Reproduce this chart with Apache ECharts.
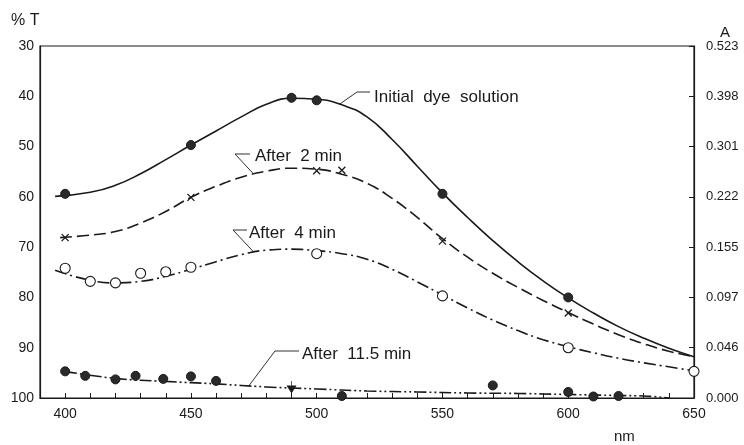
<!DOCTYPE html>
<html>
<head>
<meta charset="utf-8">
<script src="https://cdn.jsdelivr.net/npm/echarts@6/dist/echarts.min.js"></script>
<style>
html,body{margin:0;padding:0;background:#fff;}
#c{width:744px;height:445px;}
</style>
</head>
<body>
<div id="c"></div>
<script>
// ---- Data (wavelength nm, % transmittance) ----
const xTicksLabelled = [400, 450, 500, 550, 600, 650];
const tLabels = [30, 40, 50, 60, 70, 80, 90, 100];
const absLabels = ['0.523', '0.398', '0.301', '0.222', '0.155', '0.097', '0.046', '0.000'];

// measured points
const initialPts = [[400, 59.4], [450, 49.7], [490, 40.3], [500, 40.8], [550, 59.4], [600, 80.0]];
const after2Pts = [[400, 68.1], [450, 60.1], [500, 54.8], [510, 54.7], [550, 68.8], [600, 83.1]];
const after4Pts = [[400, 74.2], [410, 76.8], [420, 77.1], [430, 75.2], [440, 74.9], [450, 74.0], [500, 71.3], [550, 79.7], [600, 90.0], [650, 94.7]];
const after11Pts = [[400, 94.7], [408, 95.6], [420, 96.3], [428, 95.6], [439, 96.2], [450, 95.7], [460, 96.6], [510, 99.6], [570, 97.5], [600, 98.8], [610, 99.7], [620, 99.6]];
const after11Mark = [[490, 98.2]];

// fitted curves as drawn
const initialCurve = [[396, 59.9], [410, 59.1], [420, 57.7], [430, 55.4], [440, 52.6], [450, 49.7], [460, 46.9], [470, 44.1], [480, 41.6], [490, 40.4], [500, 40.6], [510, 41.7], [520, 44.1], [530, 48.6], [540, 53.9], [550, 59.2], [560, 64.1], [570, 68.7], [580, 72.9], [590, 76.7], [600, 80.1], [610, 83.1], [620, 85.8], [630, 88.1], [640, 90.1], [650, 91.8]];
const after2Curve = [[398, 68.1], [410, 67.6], [420, 66.9], [430, 65.2], [440, 62.9], [450, 60.1], [460, 57.9], [470, 56.1], [480, 54.9], [490, 54.3], [500, 54.5], [510, 55.5], [520, 57.3], [530, 60.3], [540, 64.1], [550, 68.3], [560, 72.0], [570, 75.2], [580, 78.0], [590, 80.6], [600, 83.0], [610, 85.3], [620, 87.4], [630, 89.2], [640, 90.7], [650, 91.8]];
const after4Curve = [[396, 74.6], [410, 76.6], [420, 77.1], [430, 76.8], [440, 75.8], [450, 74.4], [460, 72.9], [470, 71.5], [480, 70.6], [490, 70.4], [500, 70.7], [510, 71.3], [520, 72.4], [530, 74.4], [540, 76.9], [550, 79.5], [560, 82.1], [570, 84.5], [580, 86.6], [590, 88.4], [600, 89.8], [610, 91.0], [620, 92.1], [630, 93.0], [640, 93.8], [650, 94.6]];
const after11Curve = [[400, 94.7], [420, 96.1], [440, 96.7], [460, 97.2], [480, 97.8], [500, 98.2], [520, 98.6], [540, 98.8], [560, 99.0], [580, 99.1], [600, 99.3], [620, 99.5], [630, 99.6], [640, 100.0]];

const seriesNames = ['Initial  dye  solution', 'After  2 min', 'After  4 min', 'After  11.5 min'];

// ---- Chart ----
const FONT = '"Liberation Sans", Arial, sans-serif';
const INK = '#1a1a1a';
const chart = echarts.init(document.getElementById('c'), null, {renderer: 'canvas'});

function curve(data, dash) {
  return {
    type: 'line', data: data, smooth: 0.5, showSymbol: false, silent: true,
    lineStyle: {color: INK, width: 1.6, type: dash},
    z: 2
  };
}
function marks(data, symbol, size, fill, border) {
  return {
    type: 'scatter', data: data, symbol: symbol, symbolSize: size, silent: true,
    itemStyle: {color: fill, borderColor: INK, borderWidth: border, opacity: 1},
    z: 3
  };
}

chart.setOption({
  backgroundColor: '#ffffff',
  animation: false,
  grid: {left: 40, right: 50, top: 46, bottom: 47, show: true, borderColor: INK, borderWidth: 1.2},
  xAxis: {
    type: 'value', min: 390, max: 650, interval: 10,
    axisLine: {lineStyle: {color: INK, width: 1.2}},
    axisTick: {inside: true, length: 5, lineStyle: {color: INK}},
    splitLine: {show: false},
    axisLabel: {
      color: INK, fontFamily: FONT, fontSize: 14, margin: 9,
      formatter: v => (xTicksLabelled.indexOf(v) >= 0 ? String(v) : '')
    }
  },
  yAxis: [{
    type: 'value', min: tLabels[0], max: tLabels[tLabels.length - 1], interval: 10, inverse: true,
    axisLine: {show: true, lineStyle: {color: INK, width: 1.2}},
    axisTick: {show: false},
    splitLine: {show: false},
    axisLabel: {color: INK, fontFamily: FONT, fontSize: 14, margin: 6}
  }, {
    type: 'value', position: 'right', min: tLabels[0], max: tLabels[tLabels.length - 1], interval: 10, inverse: true,
    axisLine: {show: true, lineStyle: {color: INK, width: 1.2}},
    axisTick: {show: true, inside: true, length: 5, lineStyle: {color: INK}},
    splitLine: {show: false},
    axisLabel: {color: INK, fontFamily: FONT, fontSize: 13, margin: 12,
      formatter: v => absLabels[tLabels.indexOf(v)]}
  }],
  series: [
    curve(initialCurve, 'solid'),
    curve(after2Curve, [12, 5]),
    curve(after4Curve, [12, 4, 2, 4]),
    curve(after11Curve, [12, 3, 2, 3, 2, 3]),
    marks(initialPts, 'circle', 9, '#2a2a2a', 1),
    marks(after2Pts, 'path://M0,0L10,10M10,0L0,10', 7, 'none', 1.3),
    marks(after4Pts, 'circle', 10, '#ffffff', 1.1),
    marks(after11Pts, 'circle', 9, '#2a2a2a', 1),
    marks(after11Mark, 'path://M0,6L10,6L5,13ZM5,0L5,18', [8, 16], '#1a1a1a', 1)
  ]
});

// ---- Annotations (leader lines anchored to the curves) ----
const annot = [
  {name: seriesNames[0], anchor: [509, 41.6], elbow: [357, 92], end: [370, 92], text: [374, 97]},
  {name: seriesNames[1], anchor: [475, 55.5], elbow: [235, 154], end: [250, 154], text: [255, 156]},
  {name: seriesNames[2], anchor: [475, 71.0], elbow: [233, 230], end: [247, 230], text: [249, 233]},
  {name: seriesNames[3], anchor: [473, 97.6], elbow: [275, 351], end: [299, 351], text: [302, 354]}
];
const g = [];
annot.forEach(a => {
  const p = chart.convertToPixel({xAxisIndex: 0, yAxisIndex: 0}, a.anchor);
  g.push({type: 'polyline', silent: true, shape: {points: [p, a.elbow, a.end]},
    style: {stroke: INK, lineWidth: 0.9, fill: null}});
  g.push({type: 'text', silent: true, x: a.text[0], y: a.text[1],
    style: {text: a.name, fill: INK, font: '17px ' + FONT, verticalAlign: 'middle'}});
});
g.push({type: 'text', silent: true, x: 11, y: 21, style: {text: '% T', fill: INK, font: '16px ' + FONT, verticalAlign: 'middle'}});
g.push({type: 'text', silent: true, x: 720, y: 33, style: {text: 'A', fill: INK, font: '15px ' + FONT, verticalAlign: 'middle'}});
g.push({type: 'text', silent: true, x: 614, y: 437, style: {text: 'nm', fill: INK, font: '15px ' + FONT, verticalAlign: 'middle'}});
chart.setOption({graphic: g});
</script>
</body>
</html>
